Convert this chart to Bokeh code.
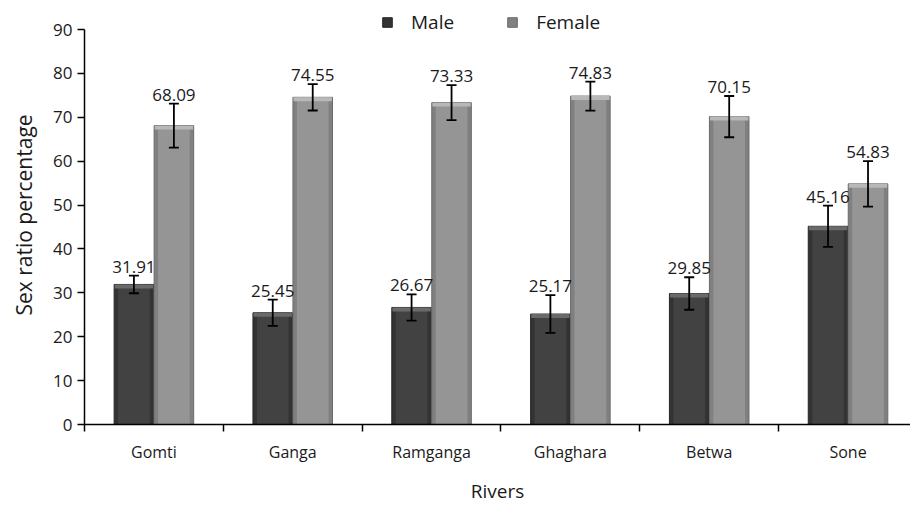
import numpy as np
from bokeh.plotting import figure
from bokeh.core.properties import value
from bokeh.models import (ColumnDataSource, Range1d, FixedTicker, SingleIntervalTicker,
                          Whisker, TeeHead, Legend, LegendItem, LabelSet)
from bokeh.embed import file_html
from bokeh.resources import INLINE

rivers = ["Gomti", "Ganga", "Ramganga", "Ghaghara", "Betwa", "Sone"]
male = [31.91, 25.45, 26.67, 25.17, 29.85, 45.16]
female = [68.09, 74.55, 73.33, 74.83, 70.15, 54.83]
male_err = [2.0, 3.0, 3.0, 4.3, 3.7, 4.7]
female_err = [5.0, 3.0, 4.0, 3.3, 4.7, 5.2]
y_ticks_max = 90

n = len(rivers)
centers = np.arange(n) + 0.5
off = 0.144
bw = 0.285
bevel = 0.9

def src(vals, errs, shift):
    v = np.array(vals)
    e = np.array(errs)
    return ColumnDataSource(dict(
        x=centers + shift, top=v, upper=v + e, lower=v - e, bev=v - bevel,
        label=["%.2f" % t for t in vals]))

ms = src(male, male_err, -off)
fs = src(female, female_err, off)

FONT = "Open Sans"

p = figure(width=910, height=506, output_backend="svg", toolbar_location=None,
           x_range=Range1d(0, 5.95), y_range=Range1d(0, 95.47),
           min_border_left=84, min_border_right=0, min_border_top=5,
           min_border_bottom=78, background_fill_color="white",
           border_fill_color="white", outline_line_color=None)
p.xgrid.visible = False
p.ygrid.visible = False

rm = p.vbar(x="x", top="top", width=bw, source=ms, fill_color="#333333",
            line_color="#262626", line_width=1)
p.vbar(x="x", top="top", width=bw * 0.8, source=ms, fill_color="#424242",
       line_color=None)
p.vbar(x="x", top="top", bottom="bev", width=bw * 0.97, source=ms,
       fill_color="#6a6a6a", line_color=None)
rf = p.vbar(x="x", top="top", width=bw, source=fs, fill_color="#808080",
            line_color="#6a6a6a", line_width=1)
p.vbar(x="x", top="top", width=bw * 0.8, source=fs, fill_color="#959595",
       line_color=None)
p.vbar(x="x", top="top", bottom="bev", width=bw * 0.97, source=fs,
       fill_color="#b8b8b8", line_color=None)

for s in (ms, fs):
    w = Whisker(source=s, base="x", upper="upper", lower="lower", level="annotation",
                line_color="black", line_width=1.8,
                upper_head=TeeHead(size=10, line_color="black", line_width=1.8),
                lower_head=TeeHead(size=10, line_color="black", line_width=1.8))
    p.add_layout(w)
    lab = LabelSet(source=s, x="x", y="upper", text="label", y_offset=3,
                   text_align="center", text_baseline="bottom",
                   text_font=value(FONT), text_font_size=value("17px"),
                   text_color="#1a1a1a")
    p.add_layout(lab)

# axes
ya = p.yaxis[0]
ya.ticker = SingleIntervalTicker(interval=10, num_minor_ticks=0)
ya.bounds = (0, y_ticks_max)
ya.axis_label = "Sex ratio percentage"
ya.axis_label_text_font = FONT
ya.axis_label_text_font_size = "21px"
ya.axis_label_text_font_style = "normal"
ya.axis_label_text_color = "#1a1a1a"
ya.axis_label_standoff = 12
ya.major_label_text_font = FONT
ya.major_label_text_font_size = "17px"
ya.major_label_text_color = "#1a1a1a"
ya.major_label_standoff = 5
ya.major_tick_out = 7
ya.major_tick_in = 0
ya.minor_tick_line_color = None
ya.axis_line_width = 1.5
ya.major_tick_line_width = 1.5
ya.axis_line_color = "black"

xa = p.xaxis[0]
xa.ticker = FixedTicker(ticks=list(centers), minor_ticks=list(np.arange(n + 1)))
xa.major_label_overrides = {float(c): r for c, r in zip(centers, rivers)}
xa.major_tick_out = 0
xa.major_tick_in = 0
xa.minor_tick_out = 7
xa.minor_tick_in = 0
xa.minor_tick_line_width = 1.5
xa.minor_tick_line_color = "black"
xa.axis_line_width = 1.5
xa.axis_line_color = "black"
xa.major_label_standoff = 9
xa.major_label_text_font = FONT
xa.major_label_text_font_size = "16px"
xa.major_label_text_color = "#1a1a1a"
xa.axis_label = "Rivers"
xa.axis_label_text_font = FONT
xa.axis_label_text_font_size = "19px"
xa.axis_label_text_font_style = "normal"
xa.axis_label_text_color = "#1a1a1a"
xa.axis_label_standoff = 12

legend = Legend(items=[LegendItem(label="Male", renderers=[rm]),
                       LegendItem(label="Female", renderers=[rf])],
                orientation="horizontal", location=(297, 389),
                margin=0, padding=2, spacing=52, glyph_width=12, glyph_height=12,
                label_standoff=18, label_text_font=FONT,
                label_text_font_size="19px", label_text_color="#1a1a1a",
                border_line_color=None, background_fill_alpha=0, label_height=17)
p.add_layout(legend, "center")

open("out.html", "w").write(file_html(p, INLINE))
